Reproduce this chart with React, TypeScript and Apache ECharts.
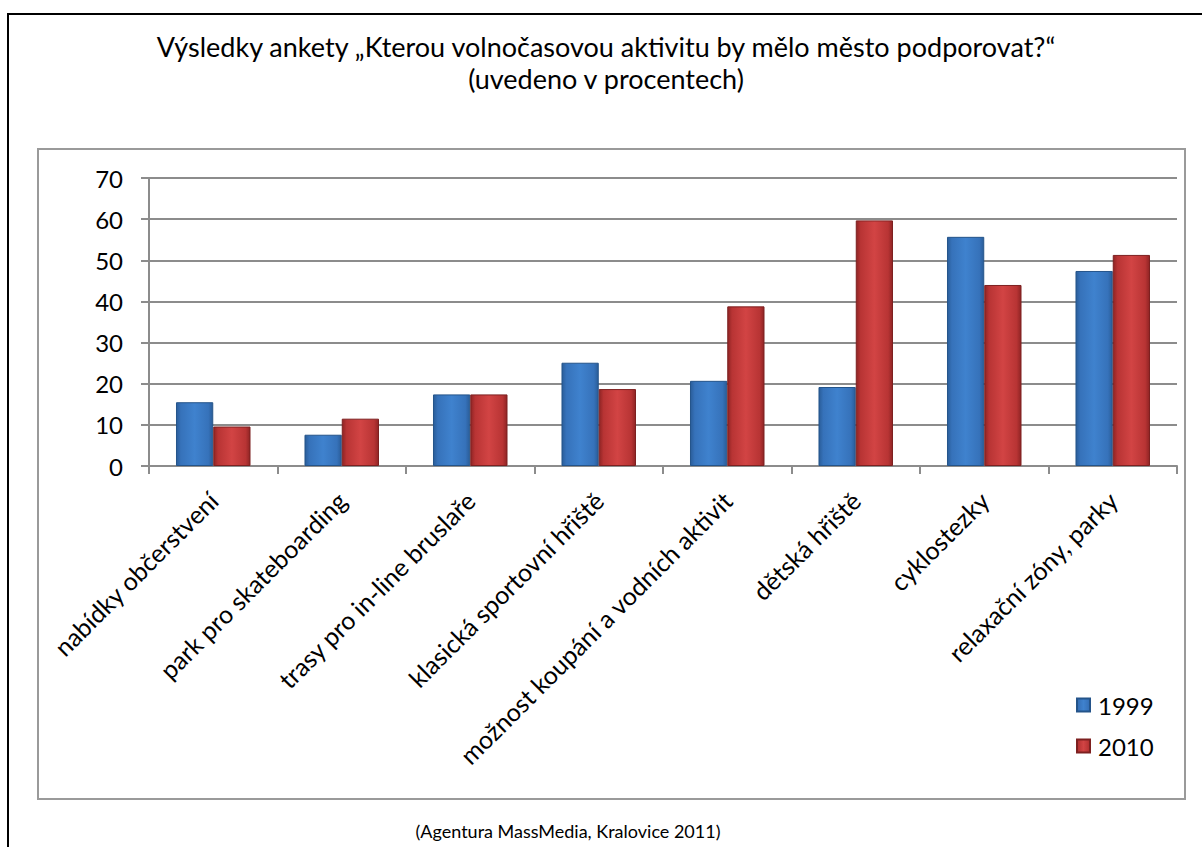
import React, { useEffect, useRef } from "react";
import * as echarts from "echarts";

const categories = [
  "nabídky občerstvení",
  "park pro skateboarding",
  "trasy pro in-line bruslaře",
  "klasická sportovní hřiště",
  "možnost koupání a vodních aktivit",
  "dětská hřiště",
  "cyklostezky",
  "relaxační zóny, parky",
];
const values1999 = [15.5, 7.6, 17.4, 25.1, 20.7, 19.2, 55.7, 47.4];
const values2010 = [9.6, 11.5, 17.4, 18.7, 38.8, 59.7, 44.0, 51.3];
const seriesNames = ["1999", "2010"];
const titleLines = [
  "Výsledky ankety „Kterou volnočasovou aktivitu by mělo město podporovat?“",
  "(uvedeno v procentech)",
];
const sourceText = "(Agentura MassMedia, Kralovice 2011)";

const FONT = "Lato, 'Open Sans', sans-serif";

function grad(dark: string, mid: string, light: string) {
  return new echarts.graphic.LinearGradient(0, 0, 1, 0, [
    { offset: 0, color: dark },
    { offset: 0.12, color: mid },
    { offset: 0.5, color: light },
    { offset: 0.88, color: mid },
    { offset: 1, color: dark },
  ]);
}

export default function App() {
  const ref = useRef<HTMLDivElement>(null);
  useEffect(() => {
    document.body.style.margin = "0";
    const chart = echarts.init(ref.current!, undefined, { renderer: "svg" });
    const blue = grad("#2a5d99", "#3672ba", "#3f82ce");
    const red = grad("#8f2424", "#b83434", "#d24444");
    chart.setOption({
      animation: false,
      backgroundColor: "#ffffff",
      title: {
        text: titleLines.join("\n"),
        left: 601,
        top: 25,
        textAlign: "center",
        textStyle: {
          fontFamily: FONT,
          fontSize: 27,
          fontWeight: "normal",
          color: "#000",
          lineHeight: 32,
        },
      },
      graphic: [
        {
          type: "rect",
          shape: { x: 8, y: 14, width: 1210, height: 850 },
          style: { fill: "none", stroke: "#000", lineWidth: 2 },
          silent: true,
        },
        {
          type: "rect",
          shape: { x: 38, y: 149, width: 1147, height: 650 },
          style: { fill: "none", stroke: "#9a9a9a", lineWidth: 2 },
          silent: true,
        },
        {
          type: "text",
          x: 568,
          y: 831,
          style: {
            text: sourceText,
            fontFamily: FONT,
            fontSize: 18,
            fill: "#000",
            align: "center",
            verticalAlign: "middle",
          },
        },
      ],
      legend: {
        orient: "vertical",
        left: 1076,
        top: 693,
        padding: 0,
        itemWidth: 13,
        itemHeight: 13,
        itemGap: 17,
        icon: "rect",
        data: seriesNames,
        textStyle: { fontFamily: FONT, fontSize: 24, color: "#000", padding: [0, 0, 0, 3] },
      },
      grid: { left: 149, top: 178, right: 25, bottom: 381, containLabel: false },
      xAxis: {
        type: "category",
        data: categories,
        axisLine: { lineStyle: { color: "#8c8c8c", width: 2 } },
        axisTick: { show: true, length: 8, lineStyle: { color: "#8c8c8c", width: 2 } },
        axisLabel: {
          rotate: 45,
          interval: 0,
          margin: 30,
          fontFamily: FONT,
          fontSize: 25,
          color: "#000",
        },
      },
      yAxis: {
        type: "value",
        min: 0,
        max: 70,
        interval: 10,
        axisLine: { show: true, lineStyle: { color: "#8c8c8c", width: 2 } },
        axisTick: { show: true, length: 8, lineStyle: { color: "#8c8c8c", width: 2 } },
        splitLine: { lineStyle: { color: "#8c8c8c", width: 2 } },
        axisLabel: {
          margin: 26,
          fontFamily: FONT,
          fontSize: 24,
          color: "#000",
        },
      },
      series: [
        {
          name: seriesNames[0],
          type: "bar",
          data: values1999,
          barGap: "0%",
          barCategoryGap: "42%",
          itemStyle: { color: blue, borderColor: "#24548a", borderWidth: 1 },
        },
        {
          name: seriesNames[1],
          type: "bar",
          data: values2010,
          itemStyle: { color: red, borderColor: "#7d2020", borderWidth: 1 },
        },
      ],
    });
    return () => chart.dispose();
  }, []);
  return <div ref={ref} style={{ width: 1202, height: 847 }} />;
}
